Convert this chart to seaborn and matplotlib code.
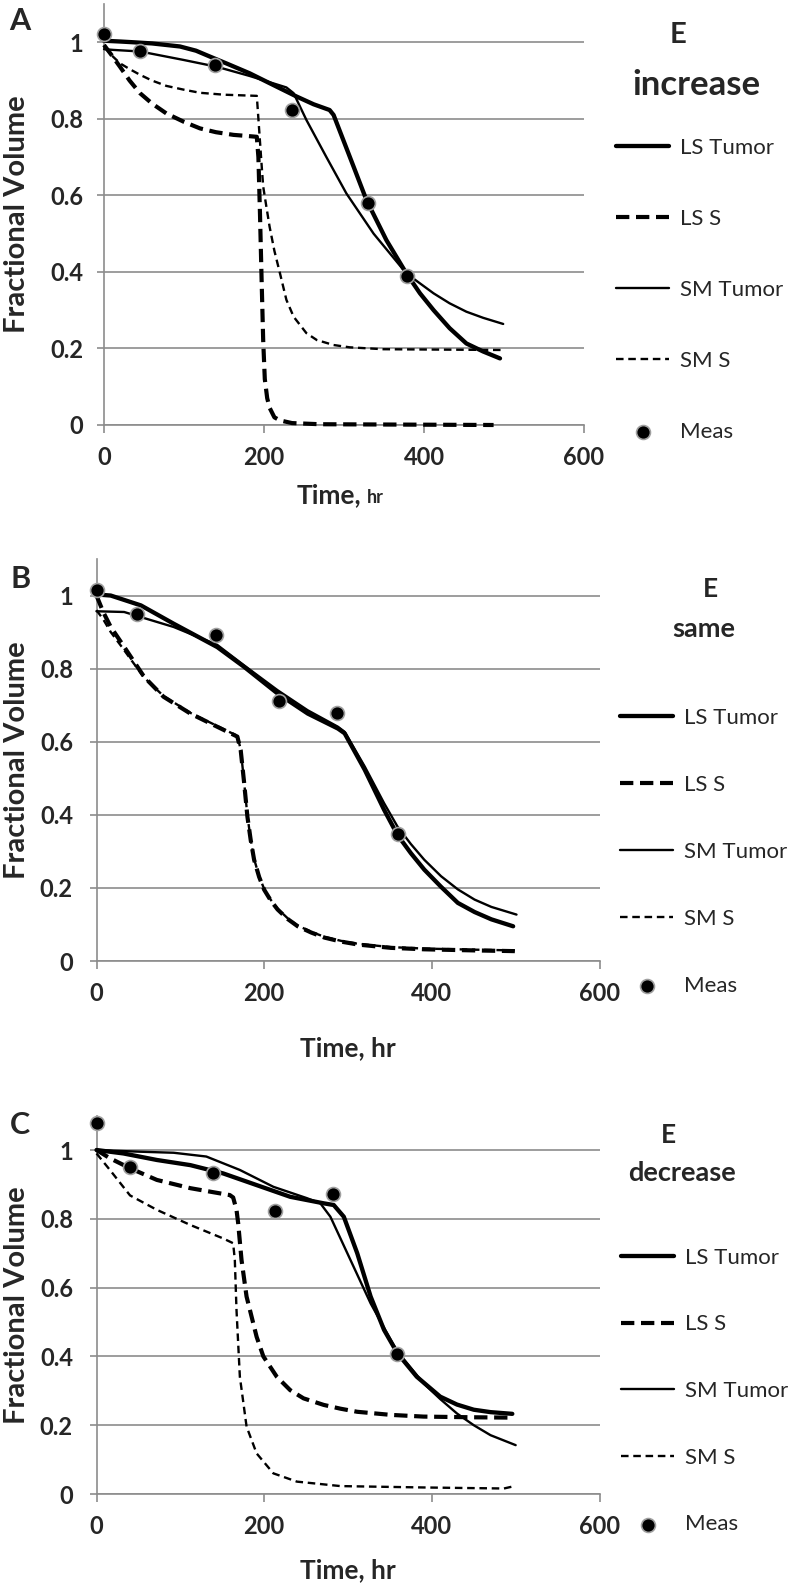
import matplotlib
matplotlib.use("Agg")
import matplotlib.pyplot as plt
import seaborn as sns
import numpy as np

# ---------------- data ----------------
# Panel A  (E increase)
tA_ls_tumor = [0, 20, 37, 60, 95, 115, 132, 155, 182, 210, 241, 262, 282, 287, 312, 328, 353, 378, 395, 412, 432, 453, 474, 495]
vA_ls_tumor = [1.004, 1.002, 1.0, 0.997, 0.989, 0.978, 0.963, 0.943, 0.919, 0.89, 0.858, 0.838, 0.823, 0.81, 0.675, 0.588, 0.483, 0.396, 0.344, 0.30, 0.253, 0.213, 0.192, 0.174]
tA_sm_tumor = [0, 12, 45, 99, 141, 182, 228, 237, 253, 278, 303, 337, 378, 395, 412, 432, 453, 474, 499]
vA_sm_tumor = [0.982, 0.980, 0.976, 0.954, 0.936, 0.912, 0.882, 0.867, 0.797, 0.70, 0.605, 0.50, 0.396, 0.37, 0.344, 0.318, 0.296, 0.28, 0.264]
tA_ls_s = [0, 10, 20, 32, 45, 60, 78, 100, 120, 140, 162, 180, 191, 193, 195, 197, 199, 201, 204, 207, 213, 220, 235, 270, 487]
vA_ls_s = [0.993, 0.965, 0.936, 0.9, 0.867, 0.84, 0.814, 0.792, 0.775, 0.765, 0.758, 0.755, 0.753, 0.70, 0.55, 0.38, 0.22, 0.12, 0.07, 0.045, 0.02, 0.012, 0.005, 0.002, 0.0]
tA_sm_s = [0, 10, 20, 32, 45, 60, 78, 100, 120, 150, 191, 193, 195, 197, 199, 203, 207, 213, 220, 228, 237, 253, 266, 287, 307, 349, 420, 499]
vA_sm_s = [0.989, 0.965, 0.945, 0.93, 0.915, 0.9, 0.886, 0.876, 0.868, 0.863, 0.86, 0.80, 0.74, 0.68, 0.623, 0.57, 0.518, 0.455, 0.396, 0.327, 0.283, 0.24, 0.222, 0.209, 0.203, 0.198, 0.197, 0.196]
tA_meas = [0, 45, 139, 235, 330, 379]
vA_meas = [1.021, 0.978, 0.94, 0.823, 0.579, 0.39]

# Panel B  (E same)
tB_ls_tumor = [0, 17, 53, 92, 144, 176, 216, 252, 288, 296, 320, 343, 359, 375, 391, 411, 431, 451, 471, 497]
vB_ls_tumor = [1.003, 1.0, 0.973, 0.923, 0.859, 0.805, 0.732, 0.677, 0.636, 0.623, 0.523, 0.414, 0.345, 0.295, 0.25, 0.203, 0.159, 0.134, 0.114, 0.095]
tB_sm_tumor = [0, 33, 53, 92, 144, 176, 216, 252, 288, 296, 320, 343, 359, 375, 391, 411, 431, 451, 471, 501]
vB_sm_tumor = [0.957, 0.955, 0.941, 0.914, 0.865, 0.809, 0.741, 0.686, 0.641, 0.627, 0.532, 0.432, 0.368, 0.32, 0.277, 0.232, 0.196, 0.168, 0.148, 0.127]
tB_ls_s = [0, 8, 17, 30, 41, 57, 80, 112, 144, 168, 172, 176, 180, 184, 188, 194, 200, 208, 216, 228, 240, 256, 272, 292, 312, 351, 391, 450, 499]
vB_ls_s = [1.0, 0.955, 0.914, 0.87, 0.832, 0.777, 0.723, 0.677, 0.641, 0.614, 0.577, 0.49, 0.395, 0.33, 0.277, 0.23, 0.195, 0.165, 0.141, 0.115, 0.095, 0.078, 0.064, 0.053, 0.045, 0.036, 0.032, 0.029, 0.027]
tB_sm_s = [0, 8, 17, 30, 41, 57, 80, 112, 144, 168, 172, 176, 180, 184, 188, 194, 200, 208, 216, 228, 240, 256, 272, 292, 312, 351, 391, 450, 499]
vB_sm_s = [0.96, 0.935, 0.9, 0.86, 0.825, 0.775, 0.725, 0.679, 0.643, 0.616, 0.579, 0.492, 0.397, 0.332, 0.279, 0.232, 0.197, 0.167, 0.143, 0.117, 0.097, 0.08, 0.066, 0.055, 0.047, 0.038, 0.034, 0.031, 0.029]
tB_meas = [0, 48, 142, 218, 287, 360]
vB_meas = [1.015, 0.95, 0.891, 0.711, 0.679, 0.347]

# Panel C  (E decrease)
tC_ls_tumor = [0, 32, 72, 112, 151, 191, 231, 271, 283, 295, 311, 327, 343, 359, 382, 410, 430, 450, 470, 496]
vC_ls_tumor = [1.0, 0.99, 0.971, 0.956, 0.932, 0.898, 0.864, 0.845, 0.84, 0.806, 0.70, 0.574, 0.477, 0.409, 0.341, 0.283, 0.26, 0.245, 0.238, 0.233]
tC_sm_tumor = [0, 52, 92, 131, 171, 211, 251, 267, 279, 303, 327, 351, 359, 390, 410, 430, 450, 470, 500]
vC_sm_tumor = [1.0, 0.995, 0.992, 0.981, 0.942, 0.893, 0.86, 0.845, 0.806, 0.68, 0.554, 0.448, 0.414, 0.322, 0.276, 0.234, 0.2, 0.171, 0.142]
tC_ls_s = [0, 16, 40, 72, 112, 140, 159, 163, 167, 169, 173, 179, 183, 191, 199, 215, 231, 247, 271, 291, 311, 351, 390, 450, 496]
vC_ls_s = [1.0, 0.976, 0.947, 0.913, 0.889, 0.877, 0.869, 0.862, 0.826, 0.787, 0.68, 0.574, 0.535, 0.457, 0.40, 0.341, 0.302, 0.278, 0.259, 0.248, 0.239, 0.23, 0.225, 0.223, 0.222]
tC_sm_s = [0, 16, 40, 72, 112, 151, 163, 165, 167, 171, 179, 191, 211, 239, 291, 390, 486, 495]
vC_sm_s = [0.99, 0.942, 0.868, 0.826, 0.782, 0.743, 0.729, 0.68, 0.535, 0.341, 0.196, 0.118, 0.06, 0.036, 0.023, 0.019, 0.016, 0.021]
tC_meas = [0, 40, 139, 213, 282, 358]
vC_meas = [1.079, 0.95, 0.934, 0.823, 0.871, 0.407]

series_labels = ["LS Tumor", "LS S", "SM Tumor", "SM S", "Meas"]
panel_letters = ["A", "B", "C"]
panel_titles = [("E", "increase"), ("E", "same"), ("E", "decrease")]
x_ticks = [0, 200, 400, 600]
y_ticks = [0, 0.2, 0.4, 0.6, 0.8, 1.0]
y_tick_labels = ["0", "0.2", "0.4", "0.6", "0.8", "1"]

# ---------------- style ----------------
sns.set_theme(style="white")
plt.rcParams["font.family"] = ["Lato", "DejaVu Sans"]

W, H = 792, 1592
fig = plt.figure(figsize=(W / 100, H / 100), dpi=100)

def fx(px):
    return px / W

def fy(py):
    return 1 - py / H

GRID = "#8c8c8c"

# axes rectangles in pixels: left, right, top(y=1.1), bottom(y=0)
rects = [(104, 584, 4, 425), (96.5, 599.5, 559, 961), (96.5, 599.5, 1115.6, 1494)]

panels = [
    (tA_ls_tumor, vA_ls_tumor, tA_ls_s, vA_ls_s, tA_sm_tumor, vA_sm_tumor, tA_sm_s, vA_sm_s, tA_meas, vA_meas),
    (tB_ls_tumor, vB_ls_tumor, tB_ls_s, vB_ls_s, tB_sm_tumor, vB_sm_tumor, tB_sm_s, vB_sm_s, tB_meas, vB_meas),
    (tC_ls_tumor, vC_ls_tumor, tC_ls_s, vC_ls_s, tC_sm_tumor, vC_sm_tumor, tC_sm_s, vC_sm_s, tC_meas, vC_meas),
]

# legend placement (handle left px, center y px, labelspacing)
legend_pos = [(616, 290, 2.3), (620, 852, 2.12), (621, 1391, 2.1)]
letter_pos = [(20, 21), (21, 579), (20, 1125)]
title_pos = [((678, 35, 21), (696, 85, 25)), ((710, 589, 19), (704, 629, 19.5)), ((668, 1135, 19), (682, 1173, 19.5))]
xlabel_y = [-0.185, -0.236, -0.222]
ylabel_x = [-0.154, -0.132, -0.132]

for i, (rect, data) in enumerate(zip(rects, panels)):
    l, r, t, b = rect
    ax = fig.add_axes([fx(l), fy(b), (r - l) / W, (b - t) / H])
    (t1, v1, t2, v2, t3, v3, t4, v4, tm, vm) = data

    sns.lineplot(x=t1, y=v1, ax=ax, color="black", lw=3.1, label=series_labels[0],
                 sort=False, clip_on=False, solid_capstyle="round", zorder=4)
    sns.lineplot(x=t2, y=v2, ax=ax, color="black", lw=3.0, ls=(0, (3.2, 1.6)),
                 label=series_labels[1], sort=False, clip_on=False, zorder=3)
    sns.lineplot(x=t3, y=v3, ax=ax, color="black", lw=1.7, label=series_labels[2],
                 sort=False, clip_on=False, zorder=4)
    sns.lineplot(x=t4, y=v4, ax=ax, color="black", lw=1.7, ls=(0, (3.2, 2.0)),
                 label=series_labels[3], sort=False, clip_on=False, zorder=3)
    sns.scatterplot(x=tm, y=vm, ax=ax, color="black", s=100, edgecolor="#a0a0a0",
                    linewidth=1.2, label=series_labels[4], zorder=6, clip_on=False)

    ax.set_xlim(0, 600)
    ax.set_ylim(0, 1.1)
    ax.set_xticks(x_ticks)
    ax.set_xticklabels([str(v) for v in x_ticks])
    ax.set_yticks(y_ticks)
    ax.set_yticklabels(y_tick_labels)
    ax.yaxis.grid(True, color=GRID, lw=1.2)
    ax.xaxis.grid(False)
    ax.set_axisbelow(True)
    for s in ["top", "right"]:
        ax.spines[s].set_visible(False)
    for s in ["left", "bottom"]:
        ax.spines[s].set_color(GRID)
        ax.spines[s].set_linewidth(1.2)
    ax.tick_params(axis="x", direction="out", length=6, width=1.2, color=GRID,
                   labelsize=17, pad=9, bottom=True)
    ax.tick_params(axis="y", direction="out", length=5, width=1.2, color=GRID,
                   labelsize=17, pad=10 if i == 0 else 12, left=True)
    for lab in ax.get_xticklabels() + ax.get_yticklabels():
        lab.set_fontweight("bold")

    ax.set_ylabel("Fractional Volume", fontsize=21, fontweight="bold")
    ax.yaxis.set_label_coords(ylabel_x[i], 0.5)

    if i == 0:
        ax.set_xlabel("")
        ax.text(0.469, xlabel_y[i], "Time,", transform=ax.transAxes, ha="center",
                va="baseline", fontsize=19, fontweight="bold")
        ax.text(0.565, xlabel_y[i], "hr", transform=ax.transAxes, ha="center",
                va="baseline", fontsize=13, fontweight="bold")
    else:
        ax.set_xlabel("Time, hr", fontsize=19, fontweight="bold", va="baseline")
        ax.xaxis.set_label_coords(0.5, xlabel_y[i])

    hx, cy, lsp = legend_pos[i]
    handles, labels = ax.get_legend_handles_labels()
    ax.legend(handles, labels, loc="center left", bbox_to_anchor=(fx(hx), fy(cy)),
              bbox_transform=fig.transFigure, frameon=False, fontsize=16,
              handlelength=2.4, handletextpad=0.5, labelspacing=lsp,
              borderpad=0, borderaxespad=0, scatterpoints=1)

    lx, ly = letter_pos[i]
    fig.text(fx(lx), fy(ly), panel_letters[i], ha="center", va="center",
             fontsize=22, fontweight="bold")
    (e_x, e_y, e_s), (w_x, w_y, w_s) = title_pos[i]
    fig.text(fx(e_x), fy(e_y), panel_titles[i][0], ha="center", va="center",
             fontsize=e_s, fontweight="bold")
    fig.text(fx(w_x), fy(w_y), panel_titles[i][1], ha="center", va="center",
             fontsize=w_s, fontweight="bold")

fig.savefig("out.png", dpi=100)
